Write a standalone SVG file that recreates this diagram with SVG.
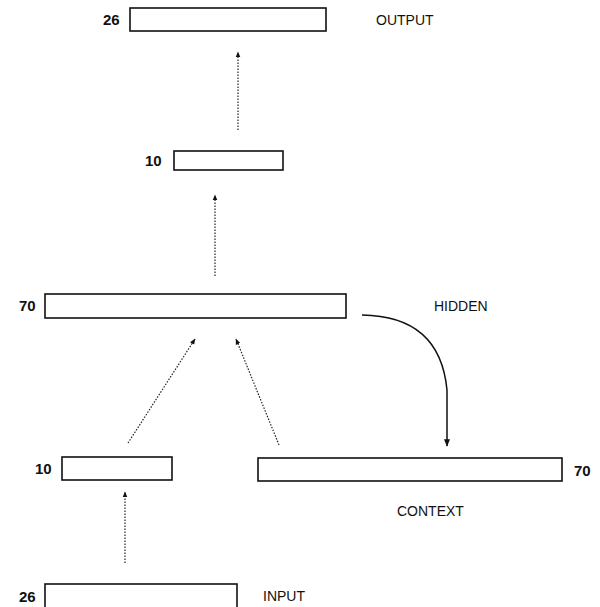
<svg xmlns="http://www.w3.org/2000/svg" width="600" height="607" viewBox="0 0 600 607">
<defs>
<style>
.box{fill:#fff;stroke:#111;stroke-width:1.6}
.num{font-family:"Liberation Sans",Arial,sans-serif;font-weight:bold;font-size:15px;fill:#111}
.lbl{font-family:"Liberation Sans",Arial,sans-serif;font-size:14px;fill:#111}
.dot{fill:none;stroke:#222;stroke-width:1.2;stroke-dasharray:1.5 1.5}
.solid{fill:none;stroke:#111;stroke-width:1.5}
</style>
<marker id="ah" viewBox="0 0 10 10" refX="9" refY="5" markerWidth="5" markerHeight="5" orient="auto">
<path d="M0,1 L10,5 L0,9 Z" fill="#111"/>
</marker>
</defs>
<rect width="600" height="607" fill="#fff"/>
<g id="output">
<rect class="box" x="130" y="8" width="196" height="23"/>
<text class="num" x="103" y="25">26</text>
<text class="lbl" x="376" y="25">OUTPUT</text>
</g>
<g id="hidden2">
<rect class="box" x="174" y="151" width="109" height="19"/>
<text class="num" x="145" y="166">10</text>
</g>
<g id="hidden">
<rect class="box" x="45" y="294" width="301" height="24"/>
<text class="num" x="19" y="311">70</text>
<text class="lbl" x="434" y="311">HIDDEN</text>
</g>
<g id="hidden1">
<rect class="box" x="62" y="457" width="110" height="23"/>
<text class="num" x="35" y="474">10</text>
</g>
<g id="context">
<rect class="box" x="258" y="458" width="304" height="23"/>
<text class="num" x="574" y="476">70</text>
<text class="lbl" x="397" y="516">CONTEXT</text>
</g>
<g id="input">
<rect class="box" x="45" y="584" width="192" height="30"/>
<text class="num" x="19" y="602">26</text>
<text class="lbl" x="263" y="601">INPUT</text>
</g>
<g id="connectors">
<line class="dot" x1="238" y1="130" x2="238" y2="52" marker-end="url(#ah)"/>
<line class="dot" x1="215" y1="276" x2="215" y2="195" marker-end="url(#ah)"/>
<line class="dot" x1="128" y1="443" x2="195" y2="339" marker-end="url(#ah)"/>
<line class="dot" x1="279" y1="445" x2="236" y2="339" marker-end="url(#ah)"/>
<line class="dot" x1="125" y1="563" x2="125" y2="492" marker-end="url(#ah)"/>
<path class="solid" d="M362,315 Q440,316 447,390 L447,446" marker-end="url(#ah)"/>
</g>
</svg>
